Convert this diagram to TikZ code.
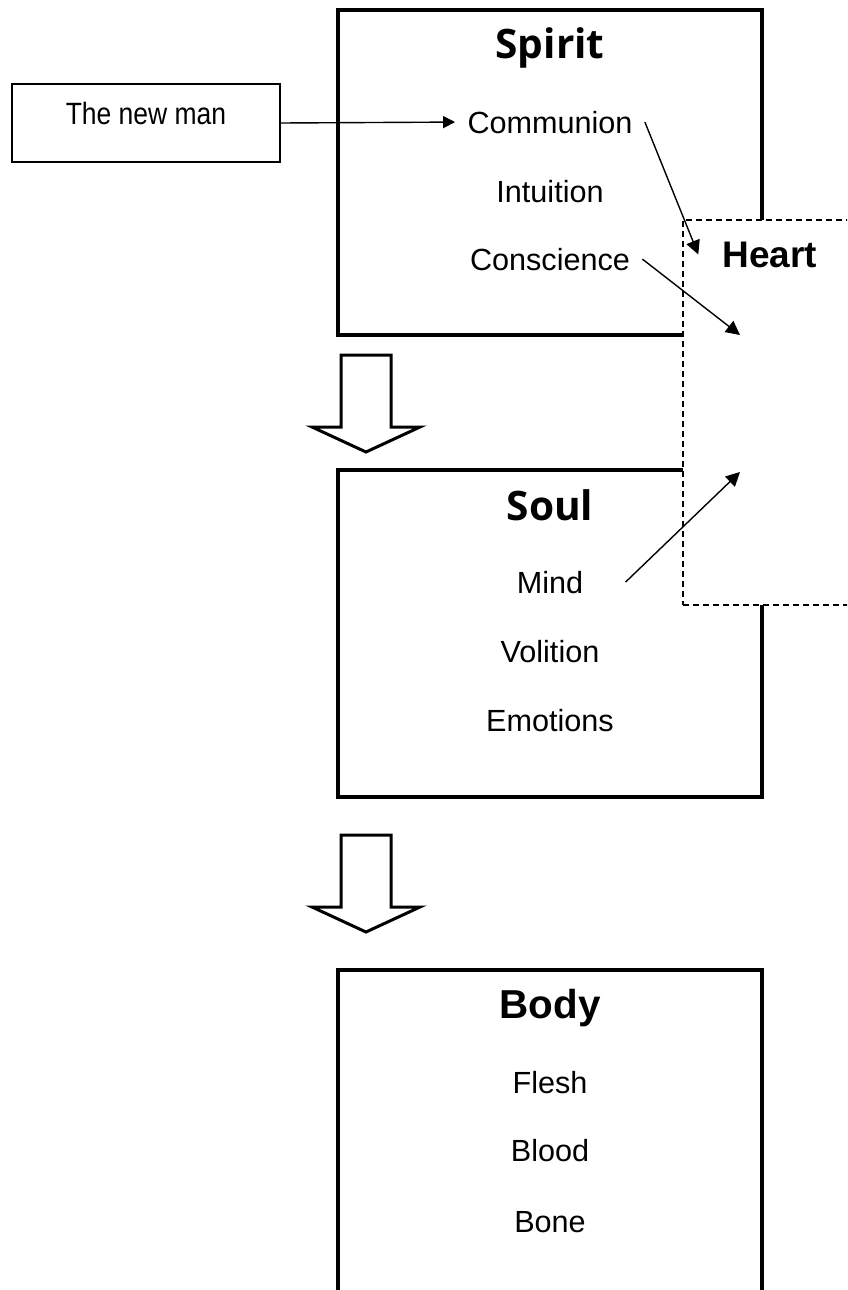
\documentclass[tikz,border=0pt]{standalone}
\usepackage{fontspec}
\setmainfont{Liberation Sans}
\newfontfamily\titlefont{Open Sans}
\newfontfamily\narrowfont[FakeStretch=0.86]{Liberation Sans}
\usetikzlibrary{arrows.meta,positioning}
\tikzstyle{bigbox}=[draw, line width=1.6pt, minimum width=212pt, inner sep=0pt]
\tikzstyle{smallbox}=[draw, line width=0.9pt, minimum width=134pt, minimum height=39pt, inner sep=0pt]
\tikzstyle{heartbox}=[draw, dashed, dash pattern=on 3pt off 2pt, line width=0.6pt, fill=white, minimum width=118.5pt, minimum height=192.5pt, inner sep=0pt]
\tikzstyle{entry}=[anchor=base, inner xsep=6pt, font=\fontsize{15.3}{18}\selectfont]
\tikzstyle{title}=[anchor=base, font={\titlefont\fontsize{20.3}{24}\selectfont\bfseries}]
\tikzstyle{link}=[line width=0.7pt, -{Triangle[length=7pt,width=7pt]}]
\tikzset{downarrow/.pic={
  \draw[line width=1.5pt, miter limit=20] (-25,0) -- (25,0) -- (25,72) -- (54,72) -- (0,97) -- (-54,72) -- (-25,72) -- cycle;}}
\newcommand{\entry}{\node[entry]}

\begin{document}
\begin{tikzpicture}[x=0.5pt,y=-0.5pt]
            \useasboundingbox (0,0) rectangle (847,1290);
            \clip (0,0) rectangle (847,1290);
            % the three boxes
            \node[bigbox, minimum height=162.5pt] (spirit) at (550,172.5) {};
            \node[bigbox, minimum height=163.5pt] (soul) at (550,633.5) {};
            \node[bigbox, minimum height=185pt] (body) at (550,1155) {};
            \node[smallbox] (newmanbox) at (146,123) {};
            \node[entry, font=\narrowfont\fontsize{15.4}{18}\selectfont] (newman) at (146,124) {The new man};
            
            \pic at (366,355) {downarrow};
            \pic at (366,835) {downarrow};
            
            % heart lies over spirit and soul
            \node[heartbox] (heartbox) at (801.5,412.5) {};
            \node[title, inner xsep=12pt, font=\fontsize{18.5}{22}\selectfont\bfseries] (heart) at (770,267) {Heart};
            \coordinate (heartin1) at (740,335);
            \coordinate (heartin2) at (740,472);
            
            \node[title] (spirittitle) at (550,58) {Spirit};
            \entry (comm) at (550,133) {Communion};
            \entry (intu) at (550,202) {Intuition};
            \entry (consc) at (550,270) {Conscience};
            
            \node[title] (soultitle) at (550,520) {Soul};
            \entry[inner xsep=21pt] (mind) at (550,593) {Mind};
            \entry (voli) at (550,662) {Volition};
            \entry (emot) at (550,731) {Emotions};
            
            \node[title, font=\fontsize{20.2}{24}\selectfont\bfseries] (bodytitle) at (550,1018) {Body};
            \entry (flesh) at (550,1093) {Flesh};
            \entry (blood) at (550,1161) {Blood};
            \entry (bone) at (550,1232) {Bone};
            
            \path[link]
            (newmanbox.east) edge[-{Triangle[length=6pt,width=6pt]}] (comm.west)
            (comm.east) edge (heart.west)
            (consc.east) edge (heartin1)
            (mind.east) edge (heartin2)
            ;
        \end{tikzpicture}
\end{document}
